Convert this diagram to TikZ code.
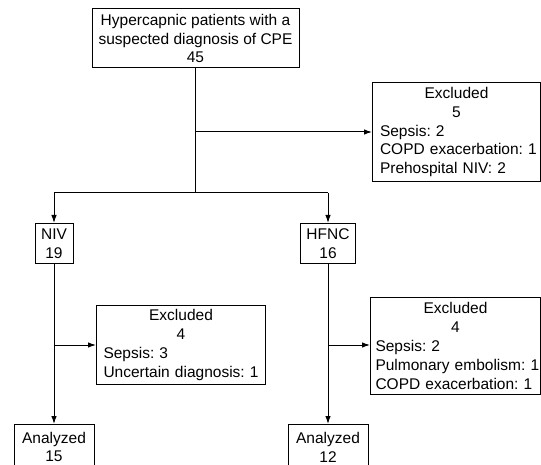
\documentclass[tikz,border=0pt]{standalone}
\usepackage{fontspec}
\setmainfont{Liberation Sans}
\usetikzlibrary{arrows.meta}
\frenchspacing
\newcommand\diagfs{\fontsize{15.5}{18.8}\selectfont}
\tikzset{
  box/.style={draw, line width=1pt, inner sep=0pt, font=\diagfs, align=center},
  exbox/.style={draw, line width=1pt, inner ysep=0pt, font=\diagfs, align=left, anchor=north west},
  conn/.style={line width=1pt},
  arr/.style={line width=1pt, -{Latex[length=8pt,width=5.5pt]}}
}
\begin{document}
\begin{tikzpicture}[x=1pt,y=-1pt]
\useasboundingbox (0,0) rectangle (541,465);
\clip (0,0) rectangle (541,465);
\node[box, minimum width=207, minimum height=59] (top) at (195.5,38.5)
  {Hypercapnic patients with a\\suspected diagnosis of CPE\\45};
\node[exbox, minimum width=168, minimum height=99, text width=153, inner xsep=7.5pt] (ex1) at (372,82)
  {{\centering Excluded\\5\par}\mbox{Sepsis: 2}\\\mbox{COPD exacerbation: 1}\\\mbox{Prehospital NIV: 2}};
\node[box, minimum width=38, minimum height=40, anchor=north] (niv) at (54,223) {NIV\\19};
\node[box, minimum width=55, minimum height=40, anchor=north] (hfnc) at (328,223) {HFNC\\16};
\node[exbox, minimum width=169, minimum height=79, text width=155, inner xsep=7pt] (ex2) at (96,305)
  {{\centering Excluded\\4\par}\mbox{Sepsis: 3}\\\mbox{Uncertain diagnosis: 1}};
\node[exbox, minimum width=170, minimum height=97, text width=160, inner xsep=5pt] (ex3) at (370,297)
  {{\centering Excluded\\4\par}\mbox{Sepsis: 2}\\\mbox{Pulmonary embolism: 1}\\\mbox{COPD exacerbation: 1}};
\node[box, minimum width=80, minimum height=45, anchor=north] (an1) at (54,424) {Analyzed\\15};
\node[box, minimum width=80, minimum height=45, anchor=north] (an2) at (328,424) {Analyzed\\12};
\coordinate (sp) at (top.south |- 0,193);
\coordinate (jl) at (niv.north |- 0,193);
\coordinate (jr) at (hfnc.north |- 0,193);
\coordinate (b1) at (top.south |- ex1.west);
\coordinate (b2) at (54,345);
\coordinate (b3) at (328,345);
\draw[conn] (top.south) -- (sp);
\draw[conn] (jl) -- (jr);
\draw[arr] (b1) -- (ex1.west);
\draw[arr] (jl) -- (niv.north);
\draw[arr] (jr) -- (hfnc.north);
\draw[arr] (niv.south) -- (an1.north);
\draw[arr] (hfnc.south) -- (an2.north);
\draw[arr] (b2) -- (b2 -| ex2.west);
\draw[arr] (b3) -- (b3 -| ex3.west);
\end{tikzpicture}
\end{document}
